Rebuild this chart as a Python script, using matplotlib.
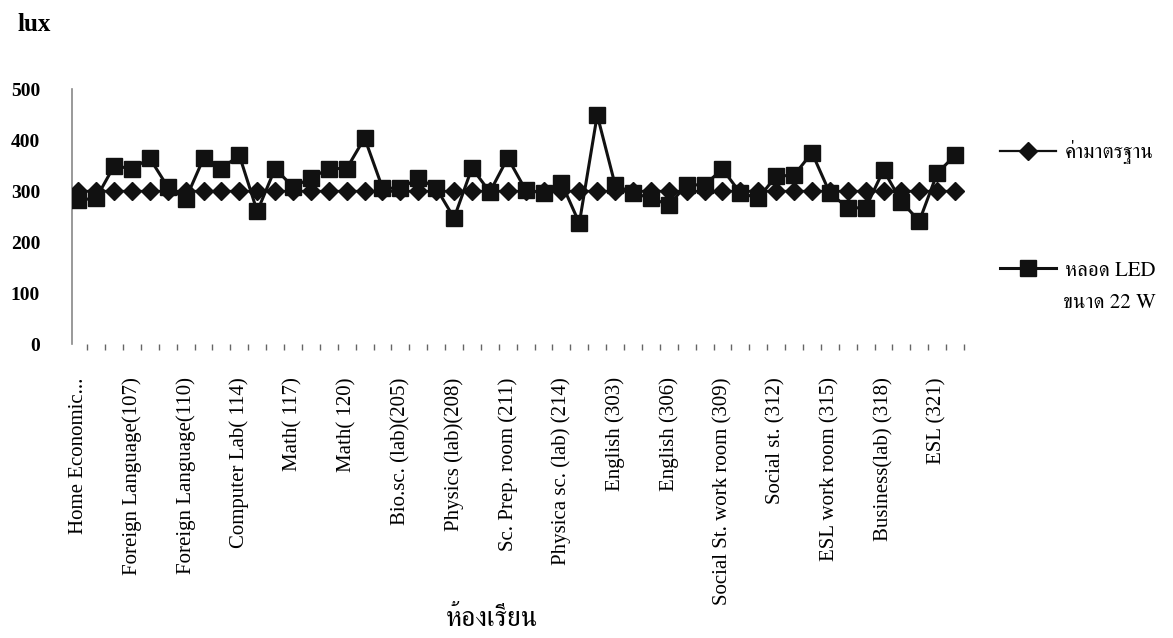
import numpy as np
import matplotlib
matplotlib.use('Agg')
import matplotlib.pyplot as plt

# lux values (50 rooms)
led = [282, 286, 349, 344, 364, 308, 284, 364, 344, 370,
       260, 344, 308, 325, 344, 344, 404, 306, 305, 325,
       306, 247, 345, 298, 365, 302, 296, 316, 237, 449,
       312, 296, 286, 273, 312, 312, 343, 296, 286, 329,
       331, 375, 296, 267, 267, 341, 279, 241, 335, 370]
standard = [300, 300, 300, 300, 300, 300, 300, 300, 300, 300,
            300, 300, 300, 300, 300, 300, 300, 300, 300, 300,
            300, 300, 300, 300, 300, 300, 300, 300, 300, 300,
            300, 300, 300, 300, 300, 300, 300, 300, 300, 300,
            300, 300, 300, 300, 300, 300, 300, 300, 300, 300]

# only every third room is labelled on the chart
label_idx = [0, 3, 6, 9, 12, 15, 18, 21, 24, 27, 30, 33, 36, 39, 42, 45, 48]
labels = ['Home Economic...', 'Foreign Language(107)', 'Foreign Language(110)',
          'Computer Lab( 114)', 'Math( 117)', 'Math( 120)', 'Bio.sc. (lab)(205)',
          'Physics (lab)(208)', 'Sc. Prep. room (211)', 'Physica sc. (lab) (214)',
          'English (303)', 'English (306)', 'Social St. work room (309)',
          'Social st. (312)', 'ESL work room (315)', 'Business(lab) (318)', 'ESL (321)']
yticks = [0, 100, 200, 300, 400, 500]

thai_fam = ['FreeSerif', 'Loma', 'DejaVu Sans']
serif = ['Liberation Serif', 'DejaVu Serif']

fig = plt.figure(figsize=(11.73, 6.38), dpi=100)
ax = fig.add_axes([0.0614, 0.4608, 0.762, 0.3997])

x = np.arange(len(led))
ax.plot(x, standard, color='#111111', lw=1.6, marker='D', ms=9.5,
        label='ค่ามาตรฐาน', zorder=3)
ax.plot(x, led, color='#111111', lw=2.2, marker='s', ms=11.5,
        label='หลอด LED', zorder=4)

ax.set_xlim(-0.35, len(led) - 0.4)
ax.set_ylim(0, 500)
ax.set_yticks(yticks)
ax.set_yticklabels([str(v) for v in yticks], family=serif, fontsize=14, fontweight='bold')
ax.tick_params(axis='y', length=0, pad=23)

ax.set_xticks(label_idx)
ax.set_xticklabels(labels, rotation=90, family=serif, fontsize=15)
ax.set_xticks(x + 0.5, minor=True)
ax.tick_params(axis='x', which='major', length=0, pad=24)
ax.tick_params(axis='x', which='minor', length=4, width=1, color='#666666')

for s in ['top', 'right', 'bottom']:
    ax.spines[s].set_visible(False)
ax.spines['left'].set_color('#888888')
ax.spines['left'].set_linewidth(1.2)

ax.set_xlabel('ห้องเรียน', family=thai_fam, fontsize=20, va='center')
ax.xaxis.set_label_coords(0.47, -1.082)

fig.text(0.0153, 0.962, 'lux', family=serif, fontsize=18, fontweight='bold', va='center')

leg = ax.legend(loc='upper left', bbox_to_anchor=(1000 / 1173, 1 - 140 / 638),
                bbox_transform=fig.transFigure, frameon=False, borderpad=0,
                borderaxespad=0, handlelength=2.7, handletextpad=0.4,
                labelspacing=4.65, prop={'family': thai_fam, 'size': 15})
fig.text(1063 / 1173, 1 - 303 / 638, 'ขนาด 22 W', family=thai_fam, fontsize=15,
         va='center', ha='left')

fig.savefig('out.png', dpi=100)
